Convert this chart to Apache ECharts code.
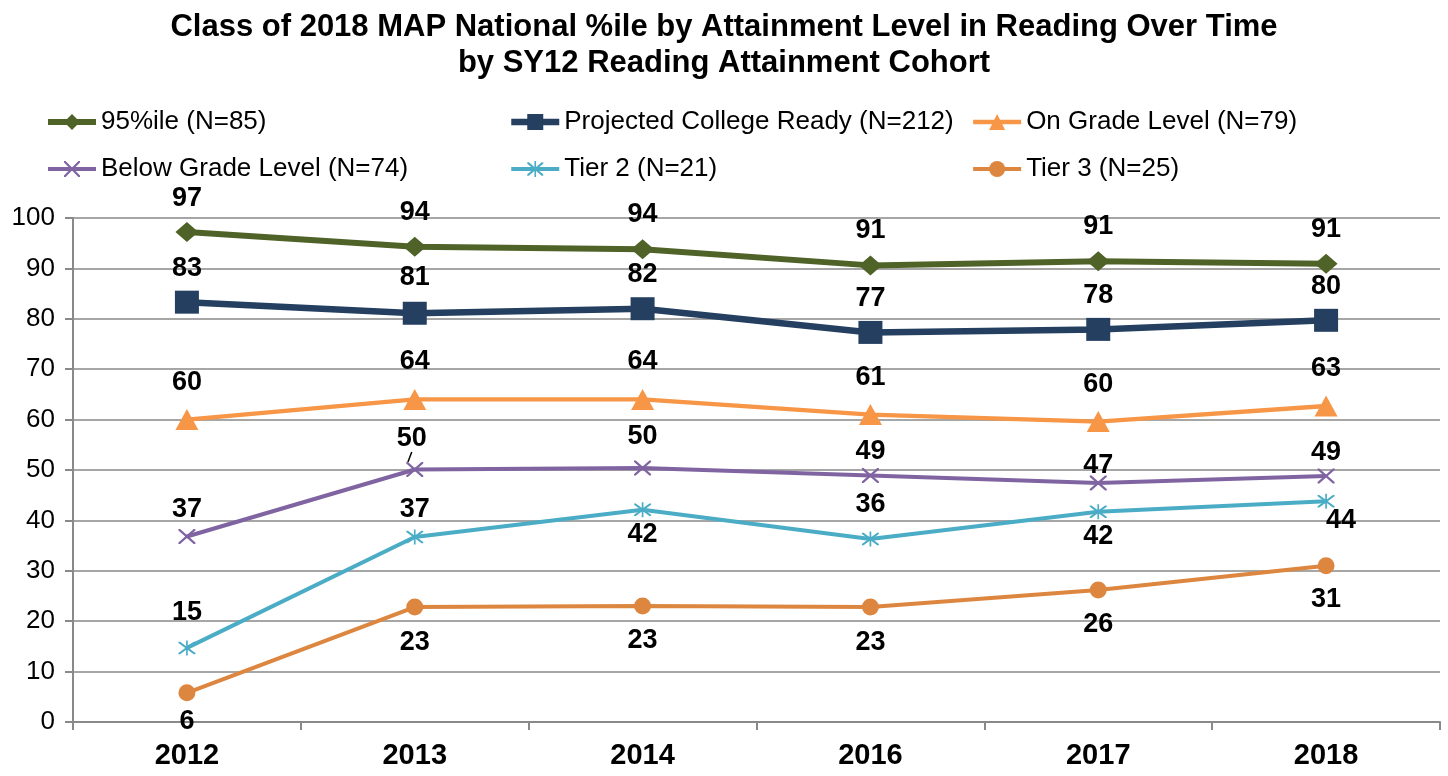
<!DOCTYPE html>
<html>
<head>
<meta charset="utf-8">
<script src="https://cdn.jsdelivr.net/npm/echarts@6/dist/echarts.min.js"></script>
<style>html,body{margin:0;padding:0;background:#fff;}#c{width:1448px;height:776px;}</style>
</head>
<body>
<div id="c"></div>
<script>
var categories = ['2012', '2013', '2014', '2016', '2017', '2018'];
var yTicks = [0, 10, 20, 30, 40, 50, 60, 70, 80, 90, 100];
var seriesNames = ['95%ile (N=85)', 'Projected College Ready (N=212)', 'On Grade Level (N=79)', 'Below Grade Level (N=74)', 'Tier 2 (N=21)', 'Tier 3 (N=25)'];
var p95 = [97.2, 94.3, 93.8, 90.6, 91.4, 90.9];
var collegeReady = [83.3, 81.1, 82.0, 77.3, 77.9, 79.7];
var onGrade = [60.0, 64.0, 64.0, 61.0, 59.6, 62.7];
var belowGrade = [36.8, 50.1, 50.4, 48.9, 47.4, 48.8];
var tier2 = [14.7, 36.7, 42.1, 36.3, 41.7, 43.8];
var tier3 = [5.8, 22.8, 23.0, 22.8, 26.2, 31.0];

// label placement (style only): [position, distance, offsetX, offsetY, leader]
var lblP95 = [['top',10],['top',11],['top',11],['top',11],['top',11],['top',11]];
var lblCR = [['top',9],['top',11],['top',9],['top',9],['top',9],['top',9]];
var lblOG = [['top',13],['top',14],['top',14],['top',13],['top',13],['top',13]];
var lblBG = [['top',6],['top',2,0,0,1],['top',10],['top',3],['top',-3],['top',3]];
var lblT2 = [['top',14],['top',6],['bottom',4],['top',14],['bottom',4],['bottom',-2,15,0]];
var lblT3 = [['bottom',7],['bottom',13],['bottom',12],['bottom',13],['bottom',13],['bottom',12]];

var FONT = '"Liberation Sans", Arial, sans-serif';
var crossPath = 'path://M0,0 L2,0 L10,8 L18,0 L20,0 L20,2 L12,10 L20,18 L20,20 L18,20 L10,12 L2,20 L0,20 L0,18 L8,10 L0,2 Z';
var starPath = 'path://M0,0 L2,0 L10,8 L18,0 L20,0 L20,2 L12,10 L20,18 L20,20 L18,20 L10,12 L2,20 L0,20 L0,18 L8,10 L0,2 Z M9,-2 L11,-2 L11,22 L9,22 Z';

var colors = ['#4F6228', '#243F60', '#F79646', '#8064A2', '#4BACC6', '#DD8640'];
var widths = [6, 6.5, 4.3, 4, 4, 4];

function buildData(vals, lbl) {
  return vals.map(function (v, i) {
    var l = lbl[i];
    var d = {
      value: v,
      label: {
        position: l[0],
        distance: l[1],
        offset: [l[2] || 0, l[3] || 0]
      }
    };
    if (l[4]) {
      d.labelLine = { show: true, lineStyle: { color: '#000', width: 1.5 } };
    }
    return d;
  });
}

function mkSeries(idx, vals, lbl, symbol, size, layout) {
  var s = {
    name: seriesNames[idx],
    type: 'line',
    data: buildData(vals, lbl),
    symbol: symbol,
    symbolSize: size,
    lineStyle: { color: colors[idx], width: widths[idx] },
    itemStyle: { color: colors[idx] },
    label: {
      show: true,
      color: '#000',
      fontFamily: FONT,
      fontWeight: 'bold',
      fontSize: 27,
      formatter: function (p) { return Math.round(p.value); }
    },
    emphasis: { disabled: true },
    animation: false
  };
  if (layout) s.labelLayout = layout;
  return s;
}

var legendText = { fontFamily: FONT, fontSize: 26, color: '#000', lineHeight: 28 };
function mkLegend(left, idxs) {
  return {
    orient: 'vertical',
    left: left,
    top: 108,
    padding: 0,
    itemWidth: 48,
    itemHeight: 20,
    itemGap: 19,
    textStyle: legendText,
    data: idxs.map(function (i) {
      return { name: seriesNames[i], lineStyle: { width: widths[i], color: colors[i] } };
    }),
    selectedMode: false
  };
}

var option = {
  backgroundColor: '#fff',
  title: {
    text: 'Class of 2018 MAP National %ile by Attainment Level in Reading Over Time\nby SY12 Reading Attainment Cohort',
    left: 'center',
    top: 4,
    textStyle: { fontFamily: FONT, fontSize: 31, fontWeight: 'bold', color: '#000', lineHeight: 36, align: 'center' }
  },
  legend: [
    mkLegend(45, [0, 3]),
    mkLegend(508, [1, 4]),
    mkLegend(971, [2, 5])
  ],
  grid: { left: 73, right: 8, top: 218, bottom: 54 },
  xAxis: {
    type: 'category',
    data: categories,
    boundaryGap: true,
    axisLine: { lineStyle: { color: '#898989', width: 2 } },
    axisTick: { show: true, length: 8, lineStyle: { color: '#898989', width: 2 } },
    axisLabel: { fontFamily: FONT, fontSize: 29, fontWeight: 'bold', color: '#000', margin: 19 }
  },
  yAxis: {
    type: 'value',
    min: 0,
    max: 100,
    interval: 10,
    axisLine: { show: true, lineStyle: { color: '#898989', width: 2 } },
    axisTick: { show: true, length: 8, lineStyle: { color: '#898989', width: 2 } },
    splitLine: { lineStyle: { color: '#898989', width: 1.5 } },
    axisLabel: {
      fontFamily: FONT, fontSize: 26, color: '#000', margin: 18,
      formatter: function (v) { return yTicks.indexOf(v) >= 0 ? String(v) : ''; }
    }
  },
  series: [
    mkSeries(0, p95, lblP95, 'diamond', [23, 20]),
    mkSeries(1, collegeReady, lblCR, 'rect', [24, 23]),
    mkSeries(2, onGrade, lblOG, 'triangle', [23, 21]),
    mkSeries(3, belowGrade, lblBG, crossPath, [17, 15], function (p) {
      return p.dataIndex === 1 ? { dx: -3, dy: -8 } : {};
    }),
    mkSeries(4, tier2, lblT2, starPath, [17, 15]),
    mkSeries(5, tier3, lblT3, 'circle', [17, 17])
  ]
};

var chart = echarts.init(document.getElementById('c'), null, { renderer: 'canvas' });
chart.setOption(option);
</script>
</body>
</html>
